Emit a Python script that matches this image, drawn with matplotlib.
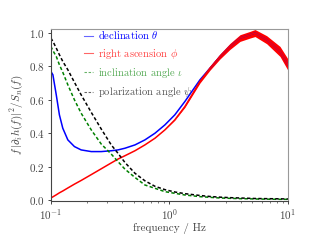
import numpy as np
import matplotlib
matplotlib.use("Agg")
import matplotlib.pyplot as plt

plt.rcParams['font.family'] = 'serif'
plt.rcParams['font.serif'] = ['cmr10', 'DejaVu Serif']
plt.rcParams['mathtext.fontset'] = 'cm'
plt.rcParams['axes.formatter.use_mathtext'] = True
plt.rcParams['axes.unicode_minus'] = False

freq = [0.1, 0.104, 0.111, 0.118, 0.126, 0.139, 0.158, 0.18, 0.219, 0.266,
        0.323, 0.368, 0.421, 0.512, 0.621, 0.755, 0.916, 1.11, 1.35, 1.81,
        2.2, 2.67, 3.24, 3.94, 4.78, 5.27, 6.61, 8.56, 10.0]
declination = [0.77, 0.75, 0.63, 0.51, 0.43, 0.36, 0.32, 0.30, 0.29, 0.29,
               0.295, 0.30, 0.31, 0.33, 0.36, 0.40, 0.45, 0.51, 0.59, 0.72,
               0.79, 0.86, 0.92, 0.97, 0.99, 1.0, 0.96, 0.89, 0.81]
right_ascension = [0.012, 0.019, 0.031, 0.043, 0.054, 0.072, 0.095, 0.117, 0.152, 0.187,
                   0.222, 0.245, 0.265, 0.295, 0.33, 0.37, 0.42, 0.48, 0.56, 0.71,
                   0.79, 0.86, 0.92, 0.97, 0.99, 1.0, 0.96, 0.89, 0.81]
ra_spread = [0.0, 0.0, 0.0, 0.0, 0.0, 0.0, 0.0, 0.0, 0.0, 0.0,
             0.0, 0.0, 0.0, 0.0, 0.0, 0.0, 0.0, 0.002, 0.005, 0.009,
             0.012, 0.015, 0.018, 0.02, 0.02, 0.021, 0.024, 0.03, 0.034]
inclination = [0.92, 0.895, 0.86, 0.81, 0.765, 0.69, 0.60, 0.52, 0.42, 0.335,
               0.275, 0.23, 0.185, 0.135, 0.09, 0.07, 0.05, 0.04, 0.03, 0.02,
               0.016, 0.012, 0.01, 0.008, 0.007, 0.006, 0.005, 0.004, 0.004]
polarization = [0.97, 0.95, 0.91, 0.87, 0.83, 0.78, 0.705, 0.63, 0.525, 0.425,
                0.33, 0.28, 0.225, 0.16, 0.115, 0.082, 0.062, 0.048, 0.038, 0.027,
                0.021, 0.017, 0.014, 0.012, 0.01, 0.009, 0.008, 0.007, 0.006]

labels = [r'declination $\theta$', r'right ascension $\phi$',
          r'inclination angle $\iota$', r'polarization angle $\psi$']

fig = plt.figure(figsize=(3.2, 2.4), dpi=100)
ax = fig.add_axes([0.159, 0.1625, 0.741, 0.7165])

f = np.array(freq)
ra = np.array(right_ascension)
sp = np.array(ra_spread)

l1, = ax.plot(f, declination, color='blue', lw=1.1)
ax.fill_between(f, ra - sp, ra + sp, color='red', lw=0)
l2, = ax.plot(f, ra, color='red', lw=1.1)
l3, = ax.plot(f, inclination, color='green', lw=1.1, ls='--', dashes=(2.2, 1.5))
l4, = ax.plot(f, polarization, color='black', lw=1.1, ls='--', dashes=(2.2, 1.5))

ax.set_xscale('log')
ax.set_xlim(0.1, 10)
ax.set_ylim(-0.006, 1.024)
ax.set_yticks([0.0, 0.2, 0.4, 0.6, 0.8, 1.0])

ax.set_xlabel('frequency / Hz', fontsize=8, color='#444444', labelpad=1)
ax.set_ylabel(r'$f\,|\partial_i h(f)|^2/S_n(f)$', fontsize=8, color='#444444', labelpad=3)

ax.tick_params(axis='both', which='major', labelsize=8, colors='#444444', length=2.5, width=0.7, direction='out', pad=2)
ax.tick_params(axis='both', which='minor', colors='#444444', length=1.5, width=0.5, direction='out')
for s in ['left', 'bottom']:
    ax.spines[s].set_color('#444444')
for s in ['top', 'right']:
    ax.spines[s].set_color('#999999')

leg = ax.legend([l1, l2, l3, l4], labels, loc='upper left', bbox_to_anchor=(0.112, 1.04),
                frameon=False, fontsize=7.6, handlelength=0.9, handletextpad=0.45,
                labelspacing=0.5, borderaxespad=0.2)
text_colors = ['blue', '#ff4040', '#55aa55', '#555555']
for t, c in zip(leg.get_texts(), text_colors):
    t.set_color(c)
for h in leg.legend_handles:
    h.set_alpha(0.6)
    h.set_linewidth(0.8)

fig.savefig('out.png', dpi=100)
